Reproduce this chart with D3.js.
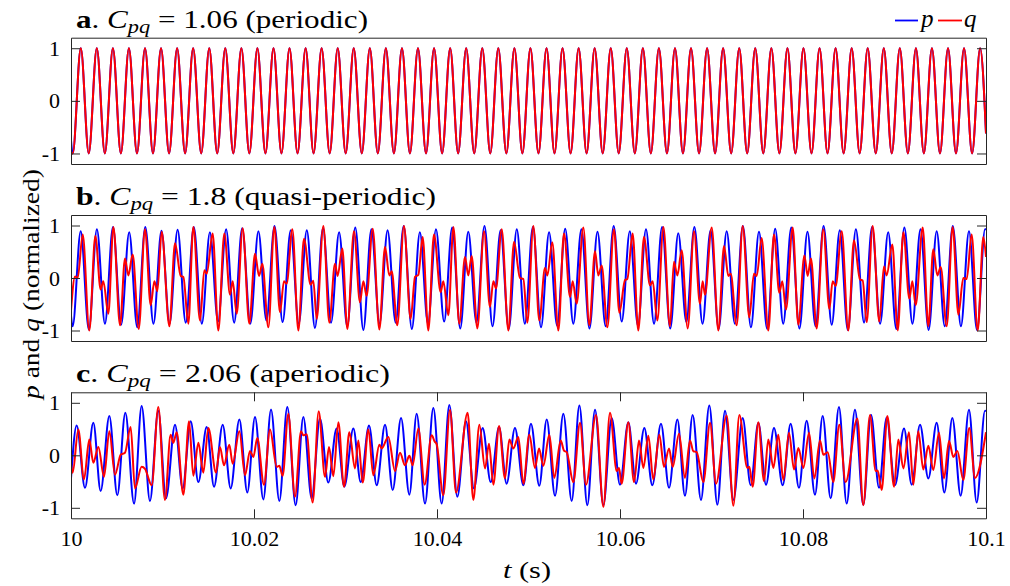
<!DOCTYPE html>
<html><head><meta charset="utf-8">
<script src="https://cdn.jsdelivr.net/npm/d3@7"></script>
<style>body{margin:0;background:#fff}</style>
</head><body><svg id="c" width="1010" height="586"></svg>
<script>
// ---------------- DATA (time in ms after t = 10 s, values normalized) ----------------
const titleLetters = ['a', 'b', 'c'];
const cpqValues = ['1.06', '1.8', '2.06'];
const regimes = ['periodic', 'quasi-periodic', 'aperiodic'];
const seriesNames = ['p', 'q'];
const xTickValues = [10, 10.02, 10.04, 10.06, 10.08, 10.1];
const xTickLabels = ['10', '10.02', '10.04', '10.06', '10.08', '10.1'];
const yTickValues = [-1, 0, 1];
const yTickLabels = ['-1', '0', '1'];

// Panel a (periodic): extrema times (ms); p and q reach -1 at troughs, +1 at peaks
const aTroughMs = [0.19,1.94,3.70,5.45,7.21,8.96,10.72,12.47,14.23,15.98,17.74,19.49,21.25,23.00,24.76,26.51,28.27,30.02,31.78,33.53,35.29,37.04,38.80,40.56,42.31,44.07,45.82,47.58,49.33,51.09,52.84,54.60,56.35,58.11,59.86,61.62,63.37,65.13,66.88,68.64,70.39,72.15,73.90,75.66,77.42,79.17,80.93,82.68,84.44,86.19,87.95,89.70,91.46,93.21,94.97,96.72,98.48];
const aPeakMs = [1.07,2.82,4.58,6.33,8.09,9.84,11.60,13.35,15.11,16.86,18.62,20.37,22.13,23.88,25.64,27.39,29.15,30.90,32.66,34.41,36.17,37.92,39.68,41.44,43.19,44.95,46.70,48.46,50.21,51.97,53.72,55.48,57.23,58.99,60.74,62.50,64.25,66.01,67.76,69.52,71.27,73.03,74.78,76.54,78.30,80.05,81.81,83.56,85.32,87.07,88.83,90.58,92.34,94.09,95.85,97.60,99.36];
const aPeakVal = 1, aTroughVal = -1;
const aP_edges = [-0.75, -0.62];   // p at t=10 and t=10.1
const aQ_edges = [-0.97, -0.62];   // q at t=10 and t=10.1

// Panel b (quasi-periodic): p extrema
const bP_peakMs = [1.06,2.83,4.59,6.36,8.12,9.89,11.65,13.42,15.18,16.95,18.71,20.48,22.24,24.01,25.77,27.54,29.30,31.07,32.83,34.60,36.36,38.13,39.89,41.66,43.42,45.19,46.95,48.72,50.48,52.25,54.01,55.78,57.54,59.31,61.07,62.84,64.60,66.37,68.13,69.90,71.66,73.43,75.19,76.96,78.72,80.49,82.25,84.02,85.78,87.55,89.31,91.08,92.84,94.61,96.37,98.14,99.90];
const bP_peakVal = [0.89,0.93,0.97,0.87,0.97,0.90,0.92,0.97,0.87,0.93,0.95,0.89,0.99,0.91,0.91,0.95,0.87,0.96,0.93,0.91,0.99,0.87,0.93,0.96,0.88,0.99,0.91,0.93,0.97,0.87,0.94,0.93,0.88,0.99,0.89,0.93,0.97,0.85,0.97,0.91,0.89,0.99,0.88,0.94,0.96,0.88,0.99,0.91,0.93,0.97,0.87,0.96,0.93,0.89,0.99,0.89,0.93];
const bP_troughMs = [0.18,1.95,3.71,5.48,7.24,9.01,10.77,12.54,14.30,16.07,17.83,19.60,21.36,23.13,24.89,26.66,28.42,30.19,31.95,33.72,35.48,37.25,39.01,40.78,42.54,44.31,46.07,47.84,49.60,51.37,53.13,54.90,56.66,58.43,60.19,61.96,63.72,65.49,67.25,69.02,70.78,72.55,74.31,76.08,77.84,79.61,81.37,83.14,84.90,86.67,88.43,90.20,91.96,93.73,95.49,97.26,99.02];
const bP_troughVal = [-0.92,-0.98,-0.87,-0.89,-0.94,-0.87,-0.87,-0.85,-0.87,-0.83,-0.85,-0.87,-0.81,-0.84,-0.87,-0.95,-0.85,-0.92,-0.99,-0.87,-0.85,-0.97,-0.87,-0.83,-0.96,-0.85,-0.92,-0.97,-0.87,-0.94,-0.91,-0.87,-0.96,-0.92,-0.83,-0.91,-0.87,-0.96,-0.84,-0.87,-0.97,-0.87,-0.94,-0.97,-0.87,-0.96,-0.92,-0.89,-0.99,-0.85,-0.87,-0.97,-0.87,-0.99,-0.92,-0.92,-0.99];
const bP_edges = [-0.72, 0.93];

// Panel b: q extrema [ms, value]
const bQ = [[0,-0.62],[0.44,0.03],[0.73,0.0],[1.28,0.83],[2.00,-1.0],[2.66,0.80],[3.24,-0.22],[3.53,-0.06],[4.08,-0.68],[4.63,0.97],[5.36,-0.90],[5.90,0.37],[6.27,0.05],[6.74,0.45],[7.40,-0.97],[8.09,0.93],[8.71,-0.52],[9.11,-0.06],[9.44,-0.25],[9.91,0.88],[10.75,-0.92],[11.37,0.66],[11.99,0.04],[12.28,0.02],[12.82,-0.87],[13.37,0.97],[14.10,-0.81],[14.57,0.15],[14.83,0.08],[15.48,0.85],[16.10,-1.0],[16.76,0.85],[17.38,-0.32],[17.67,-0.06],[18.11,-0.68],[18.76,0.95],[19.49,-0.87],[20.11,0.46],[20.55,0.04],[20.91,0.27],[21.57,-0.94],[22.22,0.97],[22.84,-0.65],[23.28,-0.06],[23.57,-0.11],[24.19,0.93],
[24.85,-1.0],[25.46,0.75],[26.19,-0.13],[26.48,-0.05],[26.85,-0.78],[27.58,0.99],[28.23,-0.85],[28.85,0.27],[29.14,0.04],[29.65,0.56],[30.20,-0.97],[30.93,0.89],[31.58,-0.46],[31.95,-0.06],[32.31,-0.34],[32.97,0.94],[33.70,-0.98],[34.32,0.59],[34.79,0.05],[35.05,0.13],[35.66,-0.90],[36.39,0.99],[37.12,-0.78],[37.60,0.02],[37.96,0.06],[38.43,0.78],[39.05,-1.0],[39.67,0.83],[40.40,-0.27],[40.69,-0.06],[41.24,-0.71],[41.79,0.97],[42.44,-0.87],[43.06,0.40],[43.42,0.05],[43.79,0.42],[44.41,-0.96],[45.14,0.89],[45.79,-0.55],[46.16,-0.06],[46.45,-0.20],[47.07,0.93],[47.80,-1.0],[48.42,0.69],[49.07,0.0],[49.44,-0.02],
[49.87,-0.85],[50.53,0.99],[51.18,-0.81],[51.80,0.19],[52.06,0.05],[52.60,0.68],[53.26,-1.0],[53.88,0.85],[54.54,-0.36],[54.83,-0.06],[55.26,-0.49],[55.99,0.96],[56.65,-0.90],[57.27,0.51],[57.63,0.05],[58.00,0.24],[58.62,-0.94],[59.34,0.93],[59.93,-0.66],[60.55,-0.04],[60.80,-0.02],[61.38,0.85],[62.00,-1.0],[62.62,0.78],[63.28,-0.14],[63.57,-0.06],[64.08,-0.81],[64.74,0.97],[65.46,-0.92],[65.90,0.31],[66.27,0.05],[66.74,0.53],[67.40,-0.96],[68.09,0.89],[68.74,-0.49],[69.03,-0.06],[69.29,-0.32],[70.02,0.96],[70.75,-1.0],[71.37,0.61],[71.84,0.04],[72.10,0.08],[72.75,-0.90],[73.41,0.99],[74.13,-0.75],[74.64,0.08],[74.94,0.04],
[75.48,0.76],[76.21,-1.0],[76.83,0.83],[77.41,-0.28],[77.74,-0.06],[78.14,-0.60],[78.87,0.96],[79.49,-0.89],[80.15,0.43],[80.51,0.04],[80.87,0.37],[81.49,-0.96],[82.22,0.93],[82.88,-0.59],[83.24,-0.06],[83.57,-0.15],[84.23,0.89],[84.95,-1.0],[85.57,0.72],[86.23,-0.03],[86.52,-0.05],[86.96,-0.84],[87.61,0.99],[88.34,-0.83],[88.85,0.22],[89.14,0.05],[89.76,0.64],[90.35,-1.0],[90.97,0.87],[91.62,-0.39],[91.95,-0.06],[92.31,-0.52],[93.08,0.96],[93.70,-0.92],[94.24,0.55],[94.68,0.05],[95.05,0.21],[95.70,-0.92],[96.36,0.97],[96.98,-0.70],[97.52,0.0],[97.89,-0.02],[98.43,0.83],[99.09,-1.0],[99.71,0.78],[100,0.40]];

// Panel c (aperiodic): p extrema [ms, value]
const cP = [[0,-0.44],[0.62,0.57],[1.53,-0.62],[2.44,0.62],[3.24,-0.68],[4.19,0.75],[5.06,-0.76],[5.94,0.81],[6.89,-0.92],[7.72,0.94],[8.63,-0.87],[9.54,0.85],[10.38,-0.82],[11.37,0.58],[12.20,-0.63],[13.08,0.65],[13.92,-0.51],[14.83,0.54],[15.63,-0.60],[16.58,0.58],[17.45,-0.63],[18.40,0.68],[19.27,-0.71],
[20.11,0.73],[21.02,-0.84],[21.86,0.87],[22.77,-0.87],[23.64,0.92],[24.55,-0.95],[25.39,0.73],[26.30,-0.82],[27.21,0.70],[28.12,-0.52],[29.03,0.51],[29.87,-0.60],[30.86,0.51],[31.66,-0.51],[32.57,0.57],[33.41,-0.57],[34.32,0.58],[35.16,-0.66],[36.07,0.71],[36.98,-0.75],[37.78,0.79],[38.69,-0.92],
[39.60,0.90],[40.51,-0.92],[41.35,0.96],[42.22,-0.79],[43.17,0.65],[44.04,-0.63],[44.99,0.52],[45.87,-0.51],[46.78,0.54],[47.61,-0.54],[48.52,0.52],[49.44,-0.57],[50.27,0.60],[51.18,-0.58],[51.99,0.68],[52.90,-0.77],[53.81,0.79],[54.72,-0.87],[55.56,0.95],[56.43,-0.95],[57.27,0.87],[58.18,-0.95],
[59.09,0.71],[60.00,-0.56],[60.91,0.63],[61.75,-0.54],[62.66,0.52],[63.53,-0.57],[64.48,0.60],[65.36,-0.62],[66.27,0.68],[67.10,-0.77],[67.94,0.77],[68.85,-0.85],[69.76,0.95],[70.64,-0.94],[71.48,0.85],[72.39,-0.85],[73.41,0.71],[74.28,-0.57],[75.12,0.62],[75.96,-0.56],[76.83,0.52],[77.78,-0.57],
[78.65,0.60],[79.56,-0.62],[80.40,0.66],[81.31,-0.75],[82.15,0.75],[83.02,-0.82],[83.93,0.92],[84.77,-0.92],[85.68,0.87],[86.59,-0.94],[87.43,0.77],[88.31,-0.62],[89.14,0.72],[90.05,-0.57],[91.04,0.51],[91.88,-0.56],[92.79,0.58],[93.70,-0.44],[94.61,0.62],[95.45,-0.71],[96.32,0.71],[97.23,-0.77],[98.14,0.87],[98.98,-0.90],[99.89,0.85],[100,0.84]];

// Panel c: q extrema [ms, value]
const cQ = [[0,-0.16],[0.18,-0.33],[0.80,0.49],[1.42,-0.46],[2.00,0.30],[2.44,-0.14],[2.99,0.16],[3.61,-0.41],[4.19,0.46],[4.81,-0.37],[5.43,0.01],[5.90,0.05],[6.52,0.54],[6.99,-0.63],[7.72,-0.22],[8.09,-0.26],[8.82,-0.57],[9.54,0.92],[10.27,-0.85],[10.89,0.39],[11.18,0.24],[11.55,0.44],[12.28,-0.75],[12.90,0.65],[13.37,-0.39],[13.92,0.24],[14.46,-0.33],[15.01,0.52],[15.85,-0.33],[16.28,0.16],[16.72,-0.19],[17.30,0.20],[17.67,-0.16],[18.40,0.46],
[19.02,-0.38],[19.56,0.08],[19.93,-0.03],[20.36,0.33],[21.09,-0.56],[21.75,0.49],[22.48,-0.22],[22.77,-0.20],[23.13,-0.39],[23.75,0.79],[24.48,-0.79],[25.14,0.46],[25.39,0.38],[25.76,0.40],[26.41,-0.90],[27.07,0.84],[27.76,-0.41],[28.20,0.16],[28.67,-0.40],[29.22,0.63],[29.84,-0.60],[30.42,0.44],[31.04,-0.25],[31.40,0.28],[31.88,-0.52],[32.50,0.49],[33.04,-0.38],[33.70,0.20],[33.95,0.13],[34.68,0.35],[35.41,-0.30],[35.96,0.05],[36.50,-0.19],[36.98,-0.01],[37.34,-0.19],[37.96,0.51],[38.65,-0.56],
[39.42,0.38],[39.75,0.26],[39.95,0.22],[40.69,-0.76],[41.42,0.87],[42.08,-0.71],[43.35,0.81],[43.97,-0.85],[44.63,0.58],[45.25,-0.25],[45.68,0.22],[46.16,-0.56],[46.78,0.56],[47.43,-0.44],[47.91,0.30],[48.34,0.13],[48.89,0.35],[49.44,-0.54],[50.09,0.39],[50.71,-0.24],[51.15,0.13],[51.62,-0.20],[52.28,0.39],[52.82,-0.43],[53.52,0.28],[53.88,0.09],[54.17,0.06],[54.90,-0.51],[55.63,0.62],[56.28,-0.56],[57.38,0.77],[58.18,-0.98],[58.91,0.81],
[59.64,-0.30],[59.89,-0.24],[60.18,-0.54],[60.91,0.63],[61.53,-0.51],[62.08,0.28],[62.55,-0.24],[63.10,0.37],[63.64,-0.46],[64.30,0.39],[64.81,-0.22],[65.36,0.13],[65.76,-0.22],[66.45,0.41],[67.10,-0.43],[67.65,0.28],[68.01,0.08],[68.38,0.06],[69.11,-0.51],[69.84,0.62],[70.49,-0.54],[71.66,0.76],[72.39,-0.96],[73.04,0.77],[73.92,-0.24],[74.14,-0.22],[74.50,-0.60],[75.12,0.63],[75.74,-0.49],[76.21,0.30],[76.76,-0.24],[77.30,0.39],[77.85,-0.47],
[78.47,0.43],[79.02,-0.27],[79.49,0.14],[80.04,-0.24],[80.66,0.43],[81.24,-0.44],[81.86,0.28],[82.22,0.01],[82.70,0.06],[83.31,-0.51],[83.97,0.58],[84.66,-0.51],[85.94,0.70],[86.59,-0.95],[87.32,0.77],[87.94,-0.30],[88.16,-0.29],[88.60,-0.66],[89.22,0.75],[89.95,-0.60],[90.42,0.30],[90.97,-0.25],[91.58,0.44],[92.06,-0.56],[92.60,0.46],[93.15,-0.27],[93.70,0.18],[94.24,-0.28],[94.86,0.43],[95.41,-0.44],[95.96,0.27],[96.43,-0.03],[96.87,0.08],[97.52,-0.47],[98.17,0.52],[98.80,-0.43],[100,0.44]];

// ---------------- BUILD SERIES ----------------
const toPts = pairs => pairs.map(([ms, v]) => ({t: 10 + ms / 1000, v}));
function fromExtrema(peaksMs, peakVals, troughsMs, troughVals, edges) {
  const arr = [[0, edges[0]]];
  peaksMs.forEach((m, i) => arr.push([m, Array.isArray(peakVals) ? peakVals[i] : peakVals]));
  troughsMs.forEach((m, i) => arr.push([m, Array.isArray(troughVals) ? troughVals[i] : troughVals]));
  arr.push([100, edges[1]]);
  arr.sort((a, b) => a[0] - b[0]);
  return toPts(arr);
}
const panelSeries = [
  [fromExtrema(aPeakMs, aPeakVal, aTroughMs, aTroughVal, aP_edges), fromExtrema(aPeakMs, aPeakVal, aTroughMs, aTroughVal, aQ_edges)],
  [fromExtrema(bP_peakMs, bP_peakVal, bP_troughMs, bP_troughVal, bP_edges), toPts(bQ)],
  [toPts(cP), toPts(cQ)]
];

// ---------------- DRAW ----------------
const FONT = "'Liberation Serif', 'Times New Roman', serif";
const colors = {p: '#0000ff', q: '#ff0000'};
const svg = d3.select('#c');
const x = d3.scaleLinear().domain([10, 10.1]).range([71, 986]);
const layout = [{top: 37.7, bottom: 164}, {top: 215, bottom: 341}, {top: 392.3, bottom: 518.3}];
const titleWidths = [292, 360, 314];
const AX = '#262626';

layout.forEach((L, i) => {
  const y = d3.scaleLinear().domain([-1.2, 1.2]).range([L.bottom, L.top]);
  const g = svg.append('g');
  g.append('clipPath').attr('id', 'clip' + i).append('rect')
    .attr('x', x.range()[0]).attr('y', L.top).attr('width', x.range()[1] - x.range()[0]).attr('height', L.bottom - L.top);

  const line = d3.line().x(d => x(d.t)).y(d => y(d.v)).curve(d3.curveMonotoneX);
  const plot = g.append('g').attr('clip-path', `url(#clip${i})`);
  plot.append('path').datum(panelSeries[i][0]).attr('d', line)
    .attr('fill', 'none').attr('stroke', colors.p).attr('stroke-width', 2).attr('stroke-linejoin', 'round');
  plot.append('path').datum(panelSeries[i][1]).attr('d', line)
    .attr('fill', 'none').attr('stroke', colors.q).attr('stroke-width', 2).attr('stroke-linejoin', 'round');

  // axes (inward ticks, MATLAB-like box)
  const isLast = i === layout.length - 1;
  const left = g.append('g').attr('transform', `translate(${x.range()[0]},0)`)
    .call(d3.axisLeft(y).tickValues(yTickValues).tickSize(-9).tickSizeOuter(0).tickPadding(11)
      .tickFormat((d, k) => yTickLabels[k]));
  const rightAx = g.append('g').attr('transform', `translate(${x.range()[1]},0)`)
    .call(d3.axisRight(y).tickValues(yTickValues).tickSize(-9).tickSizeOuter(0).tickFormat(''));
  const topAx = g.append('g').attr('transform', `translate(0,${L.top})`)
    .call(d3.axisTop(x).tickValues(isLast ? xTickValues : []).tickSize(-9).tickSizeOuter(0).tickFormat(''));
  const bot = g.append('g').attr('transform', `translate(0,${L.bottom})`)
    .call(d3.axisBottom(x).tickValues(isLast ? xTickValues : []).tickSize(-9).tickSizeOuter(0).tickPadding(12)
      .tickFormat((d, k) => xTickLabels[k]));
  [left, rightAx, topAx, bot].forEach(a => {
    a.selectAll('path.domain').attr('stroke', AX).attr('stroke-width', 1);
    a.selectAll('.tick line').attr('stroke', AX).attr('stroke-width', 1);
    a.selectAll('.tick text').attr('font-family', FONT).attr('font-size', 22).attr('fill', '#000');
  });

  // title
  const t = g.append('text').attr('x', 76).attr('y', L.top - 10)
    .attr('font-family', FONT).attr('font-size', 25).attr('fill', '#000')
    .attr('textLength', titleWidths[i]).attr('lengthAdjust', 'spacingAndGlyphs');
  t.append('tspan').attr('font-weight', 'bold').text(titleLetters[i]);
  t.append('tspan').text('. ');
  t.append('tspan').attr('font-style', 'italic').text('C');
  t.append('tspan').attr('font-style', 'italic').attr('font-size', 18).attr('dy', 5).text('pq');
  t.append('tspan').attr('dy', -5).text(` = ${cpqValues[i]} (${regimes[i]})`);
});

// legend
const lg = svg.append('g');
[[895, 918, 921, 'p'], [938, 962, 964, 'q']].forEach(([x1, x2, tx, nm]) => {
  lg.append('line').attr('x1', x1).attr('x2', x2).attr('y1', 20.5).attr('y2', 20.5)
    .attr('stroke', colors[nm]).attr('stroke-width', 1.8);
  lg.append('text').attr('x', tx).attr('y', 27).attr('font-family', FONT).attr('font-style', 'italic')
    .attr('font-size', 25).text(nm);
});

// y label
const yl = svg.append('text').attr('transform', 'translate(39,284) rotate(-90)')
  .attr('text-anchor', 'middle').attr('font-family', FONT).attr('font-size', 24)
  .attr('textLength', 230).attr('lengthAdjust', 'spacingAndGlyphs');
yl.append('tspan').attr('font-style', 'italic').text(seriesNames[0]);
yl.append('tspan').text(' and ');
yl.append('tspan').attr('font-style', 'italic').text(seriesNames[1]);
yl.append('tspan').text(' (normalized)');

// x label
const xl = svg.append('text').attr('x', 527).attr('y', 578)
  .attr('text-anchor', 'middle').attr('font-family', FONT).attr('font-size', 24)
  .attr('textLength', 48).attr('lengthAdjust', 'spacingAndGlyphs');
xl.append('tspan').attr('font-style', 'italic').text('t');
xl.append('tspan').text(' (s)');
</script></body></html>
